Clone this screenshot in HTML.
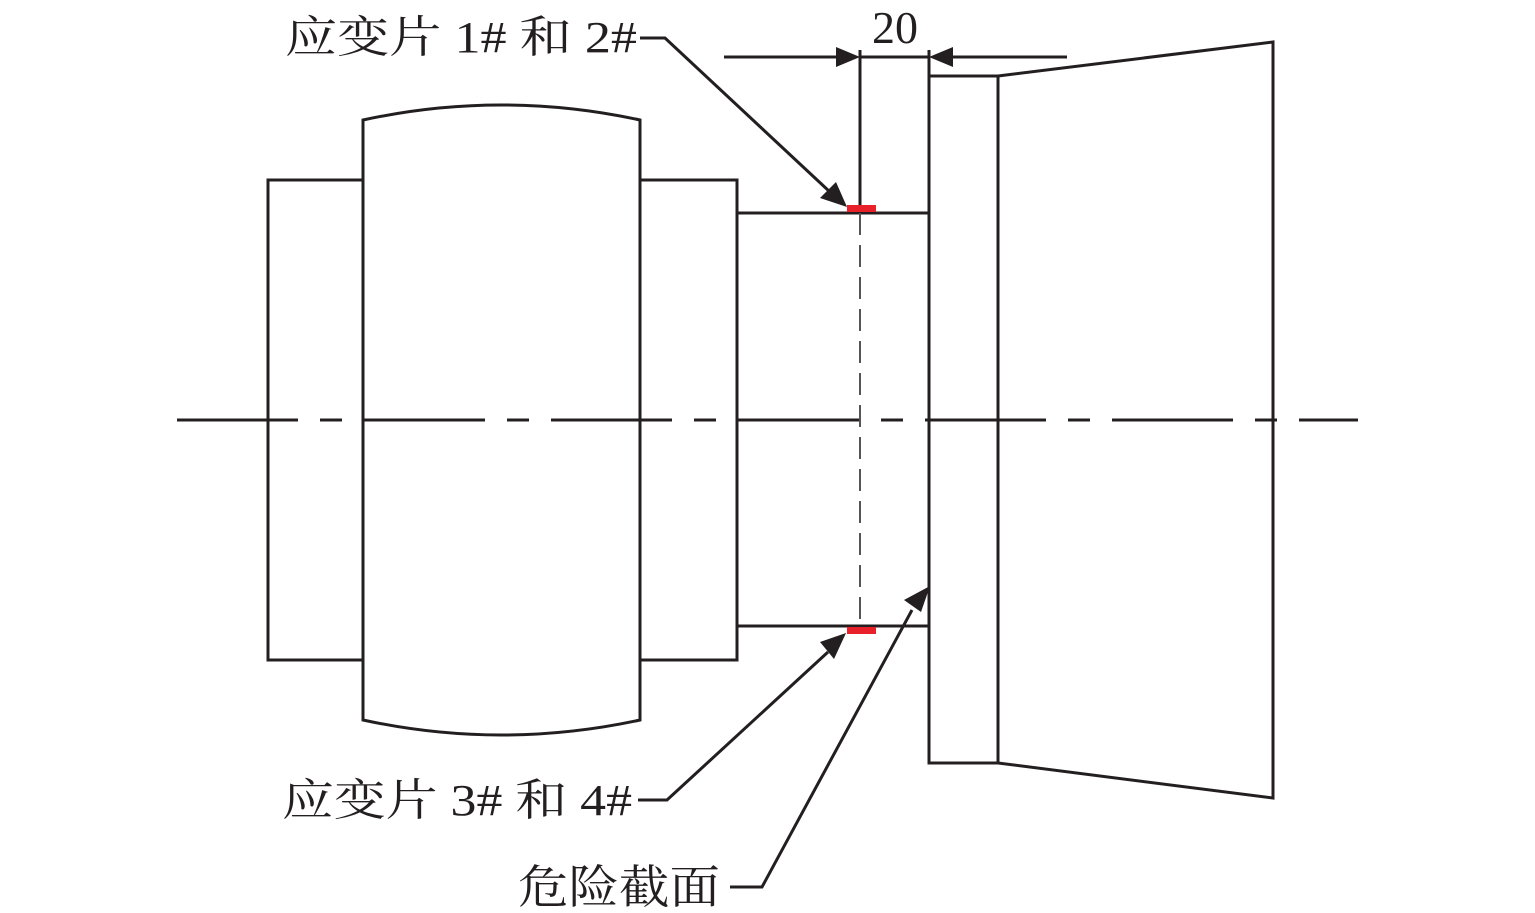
<!DOCTYPE html>
<html><head><meta charset="utf-8"><style>
html,body{margin:0;padding:0;background:#fff;}
svg{display:block;}
text{font-family:"Liberation Serif","Noto Serif CJK SC",serif;fill:#231f20;}
</style></head><body>
<svg width="1535" height="913" viewBox="0 0 1535 913" xmlns="http://www.w3.org/2000/svg">
<g stroke="#231f20" stroke-width="3" fill="none">
<rect x="268" y="180" width="95" height="480"/>
<path d="M363,120 Q501,90 640,120 L640,720 Q501,750 363,720 Z"/>
<rect x="640" y="180" width="97" height="480"/>
<line x1="737" y1="213" x2="929" y2="213"/>
<line x1="737" y1="626" x2="929" y2="626"/>
<rect x="929" y="76" width="69" height="687"/>
<path d="M998,76 L1273,42 L1273,798 L998,763"/>
<line x1="177" y1="420" x2="1358" y2="420" stroke-dasharray="121 22 22 22"/>
<line x1="860" y1="50" x2="860" y2="213"/>
<line x1="860" y1="213" x2="860" y2="626" stroke="#555" stroke-width="2" stroke-dasharray="22 10"/>
<line x1="929" y1="50" x2="929" y2="76"/>
<line x1="724" y1="57" x2="840" y2="57"/>
<line x1="860" y1="57" x2="929" y2="57"/>
<line x1="950" y1="57" x2="1067" y2="57"/>
<polyline points="640,38 665,38 830,192"/>
<polyline points="638,800 667,800 828,652"/>
<polyline points="730,887 762,887 912,610"/>
</g>
<g fill="#231f20">
<polygon points="860,57 836,47 836,67"/>
<polygon points="929,57 953,47 953,67"/>
<polygon points="847,207 820,198 836,182"/>
<polygon points="846,633 820,642 834,659"/>
<polygon points="930,586 904,600 921,612"/>
</g>
<rect x="847" y="205" width="29" height="7" fill="#e8202a"/>
<rect x="847" y="627" width="29" height="7" fill="#e8202a"/>
<text x="895" y="43" font-size="46" text-anchor="middle">20</text>
<text x="285" y="52" font-size="44" textLength="352" lengthAdjust="spacingAndGlyphs">应变片 1# 和 2#</text>
<text x="282" y="815" font-size="44" textLength="350" lengthAdjust="spacingAndGlyphs">应变片 3# 和 4#</text>
<text x="518" y="903" font-size="46" textLength="202" lengthAdjust="spacingAndGlyphs">危险截面</text>
</svg>
</body></html>
